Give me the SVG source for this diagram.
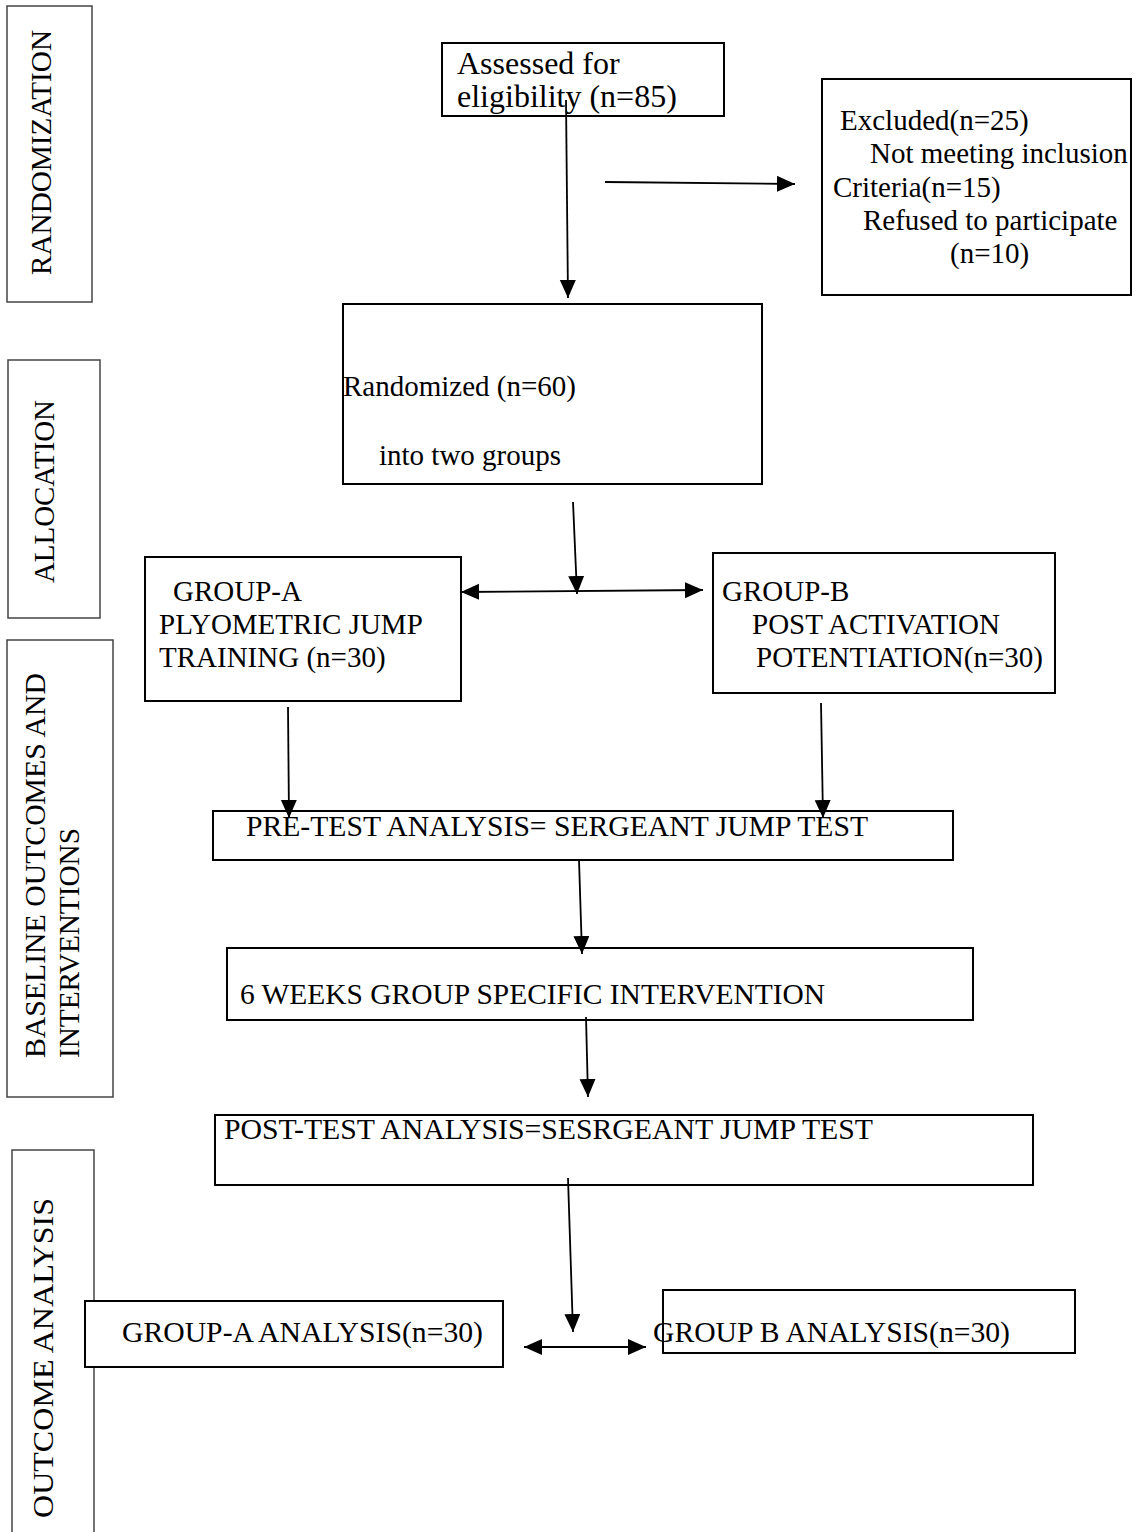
<svg xmlns="http://www.w3.org/2000/svg" width="1142" height="1532" viewBox="0 0 1142 1532">
<defs>
<style>
text{font-family:"Liberation Serif","Times New Roman",serif;font-size:29px;fill:#000}
.big{font-size:32px}
.box{fill:#fff;stroke:#000;stroke-width:2}
.lab{fill:#fff;stroke:#444;stroke-width:1.5}
.con{stroke:#000;stroke-width:1.8;fill:none}
.one{marker-end:url(#ah)}
.two{marker-end:url(#ah);marker-start:url(#ahs)}
</style>
<marker id="ah" markerUnits="userSpaceOnUse" markerWidth="20" markerHeight="18" refX="18" refY="8" orient="auto"><path d="M0,0 L18,8 L0,16 z" fill="#000"/></marker>
<marker id="ahs" markerUnits="userSpaceOnUse" markerWidth="20" markerHeight="18" refX="18" refY="8" orient="auto-start-reverse"><path d="M0,0 L18,8 L0,16 z" fill="#000"/></marker>
</defs>
<rect width="1142" height="1532" fill="#fff"/>

<g id="lab-randomization"><rect class="lab" x="7" y="6" width="85" height="296"/>
<text transform="translate(51,275) rotate(-90)" textLength="245" lengthAdjust="spacingAndGlyphs">RANDOMIZATION</text></g>
<g id="lab-allocation"><rect class="lab" x="8" y="360" width="92" height="258"/>
<text transform="translate(54,583) rotate(-90)" textLength="183" lengthAdjust="spacingAndGlyphs">ALLOCATION</text></g>
<g id="lab-baseline"><rect class="lab" x="7" y="640" width="106" height="457"/>
<text transform="translate(45,1058) rotate(-90)" textLength="385" lengthAdjust="spacingAndGlyphs">BASELINE OUTCOMES AND</text>
<text transform="translate(79,1058) rotate(-90)" textLength="230" lengthAdjust="spacingAndGlyphs">INTERVENTIONS</text></g>
<g id="lab-outcome"><rect class="lab" x="12" y="1150" width="82" height="390"/>
<text transform="translate(53,1518) rotate(-90)" textLength="320" lengthAdjust="spacingAndGlyphs">OUTCOME ANALYSIS</text></g>

<g id="n-assessed"><rect class="box" x="442" y="43" width="282" height="73"/>
<text class="big" x="457" y="74">Assessed for</text>
<text class="big" x="457" y="107">eligibility (n=85)</text></g>

<g id="n-excluded"><rect class="box" x="822" y="79" width="309" height="216"/>
<text x="840" y="130">Excluded(n=25)</text>
<text x="870" y="163">Not meeting inclusion</text>
<text x="833" y="197">Criteria(n=15)</text>
<text x="863" y="230">Refused to participate</text>
<text x="950" y="263">(n=10)</text></g>

<g id="n-randomized"><rect class="box" x="343" y="304" width="419" height="180"/>
<text x="343" y="396">Randomized (n=60)</text>
<text x="379" y="465">into two groups</text></g>

<g id="n-groupa"><rect class="box" x="145" y="557" width="316" height="144"/>
<text x="173" y="601">GROUP-A</text>
<text x="159" y="634">PLYOMETRIC JUMP</text>
<text x="159" y="667">TRAINING (n=30)</text></g>

<g id="n-groupb"><rect class="box" x="713" y="553" width="342" height="140"/>
<text x="722" y="601">GROUP-B</text>
<text x="752" y="634">POST ACTIVATION</text>
<text x="756" y="667">POTENTIATION(n=30)</text></g>

<g id="n-pretest"><rect class="box" x="213" y="811" width="740" height="49"/>
<text x="246" y="836" textLength="622" lengthAdjust="spacingAndGlyphs">PRE-TEST ANALYSIS= SERGEANT JUMP TEST</text></g>

<g id="n-intervention"><rect class="box" x="227" y="948" width="746" height="72"/>
<text x="240" y="1004" textLength="585" lengthAdjust="spacingAndGlyphs">6 WEEKS GROUP SPECIFIC INTERVENTION</text></g>

<g id="n-posttest"><rect class="box" x="215" y="1115" width="818" height="70"/>
<text x="224" y="1139" textLength="649" lengthAdjust="spacingAndGlyphs">POST-TEST ANALYSIS=SESRGEANT JUMP TEST</text></g>

<g id="n-analysisa"><rect class="box" x="85" y="1301" width="418" height="66"/>
<text x="122" y="1342" textLength="361" lengthAdjust="spacingAndGlyphs">GROUP-A ANALYSIS(n=30)</text></g>

<g id="n-analysisb"><rect class="box" x="663" y="1290" width="412" height="63"/>
<text x="653" y="1342" textLength="357" lengthAdjust="spacingAndGlyphs">GROUP B ANALYSIS(n=30)</text></g>

<g id="connectors">
<line class="con one" x1="566" y1="100" x2="568" y2="298"/>
<line class="con one" x1="605" y1="182" x2="795" y2="184"/>
<line class="con one" x1="573" y1="502" x2="577" y2="594"/>
<line class="con two" x1="461" y1="592" x2="703" y2="590"/>
<line class="con one" x1="288" y1="707" x2="289" y2="818"/>
<line class="con one" x1="821" y1="703" x2="823" y2="818"/>
<line class="con one" x1="579" y1="860" x2="582" y2="954"/>
<line class="con one" x1="586" y1="1017" x2="588" y2="1097"/>
<line class="con one" x1="568" y1="1178" x2="573" y2="1332"/>
<line class="con two" x1="524" y1="1347" x2="646" y2="1347"/>
</g>
</svg>
